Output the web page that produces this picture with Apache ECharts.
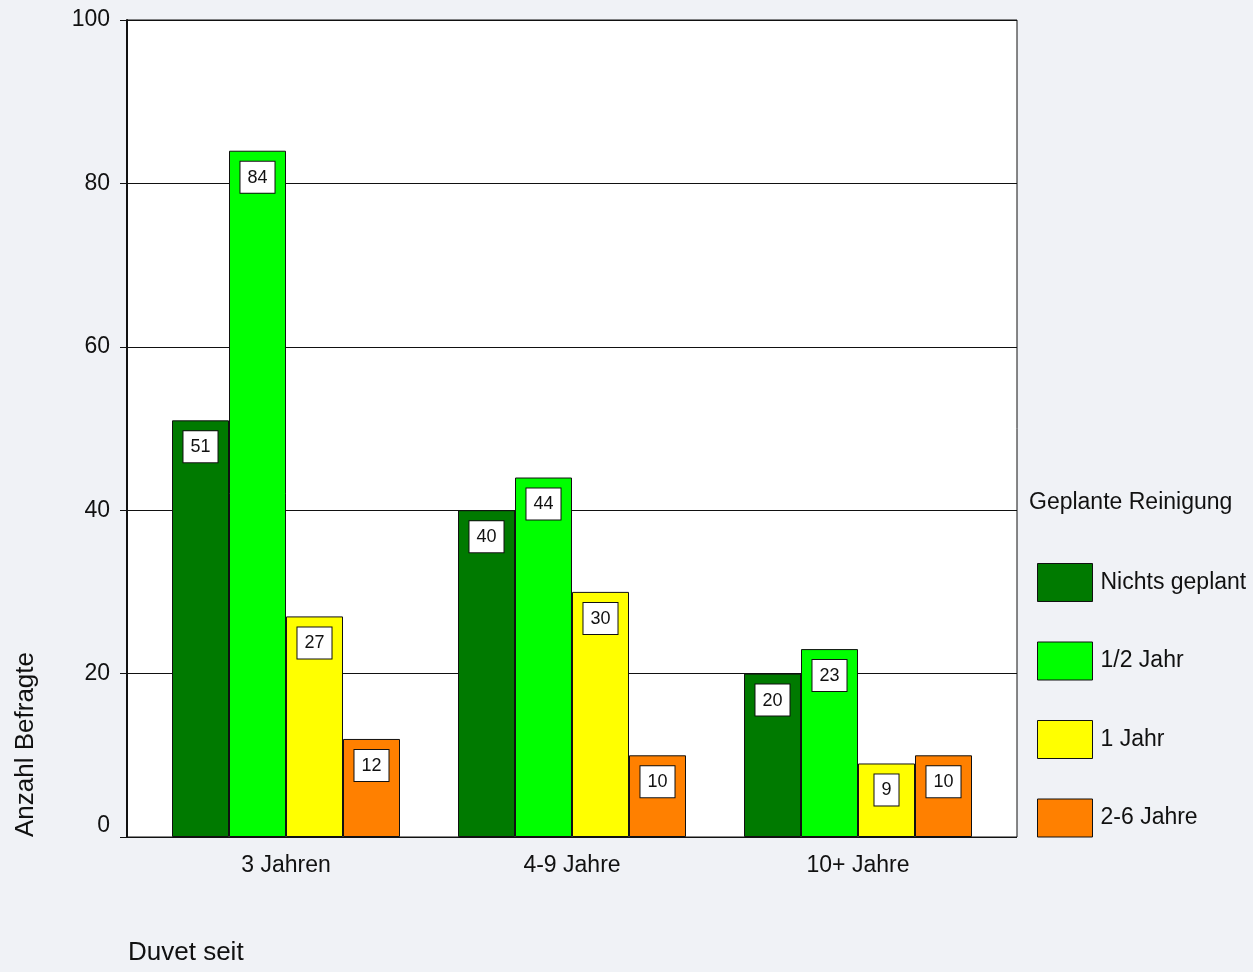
<!DOCTYPE html>
<html>
<head>
<meta charset="utf-8">
<script src="https://cdn.jsdelivr.net/npm/echarts@6/dist/echarts.min.js"></script>
<style>
  html, body { margin: 0; padding: 0; background: #f0f2f6; }
  #chart { width: 1253px; height: 972px; }
</style>
</head>
<body>
<div id="chart"></div>
<script>
// Daten
const categories = ['3 Jahren', '4-9 Jahre', '10+ Jahre'];
const seriesNames = ['Nichts geplant', '1/2 Jahr', '1 Jahr', '2-6 Jahre'];
const nichtsGeplant = [51, 40, 20];
const halbJahr = [84, 44, 23];
const einJahr = [27, 30, 9];
const zweiBisSechs = [12, 10, 10];
const yTicks = [0, 20, 40, 60, 80, 100];

const colors = ['#007a00', '#00ff00', '#ffff00', '#ff8000'];
const font = '"Liberation Sans Narrow", "Arial Narrow", "Liberation Sans", sans-serif';
const values = [nichtsGeplant, halbJahr, einJahr, zweiBisSechs];

const chart = echarts.init(document.getElementById('chart'));

const series = seriesNames.map((name, i) => ({
    name: name,
    type: 'bar',
    xAxisIndex: 1,
    yAxisIndex: 1,
    data: values[i],
    barWidth: 57,
    barGap: '0%',
    itemStyle: {
        color: colors[i],
        borderColor: '#111',
        borderWidth: 1
    },
    label: {
        show: true,
        position: 'insideTop',
        distance: 11,
        fontFamily: font,
        fontSize: 18,
        color: '#111',
        backgroundColor: '#fff',
        borderColor: '#111',
        borderWidth: 1,
        padding: [7, 7, 6, 7]
    }
}));

chart.setOption({
    backgroundColor: '#f0f2f6',
    animation: false,
    textStyle: { fontFamily: font },
    grid: [
        // Rahmen mit Gitterlinien
        {left: 127, right: 236, top: 20, bottom: 135, show: true, backgroundColor: '#fff', borderColor: '#111', borderWidth: 1},
        // Balken
        {left: 143, right: 252, top: 20, bottom: 135}
    ],
    legend: {
        orient: 'vertical',
        left: 1032,
        top: 558,
        itemWidth: 55,
        itemHeight: 38,
        itemGap: 39.5,
        icon: 'rect',
        data: seriesNames,
        itemStyle: { borderColor: '#111', borderWidth: 1 },
        textStyle: { fontFamily: font, fontSize: 23, color: '#111', padding: [6, 0, 0, 3] }
    },
    xAxis: [
        {gridIndex: 0, type: 'value', show: false, min: 0, max: 1},
        {
            gridIndex: 1,
            type: 'category',
            data: categories,
            axisLine: { lineStyle: { color: '#111', width: 1 } },
            axisTick: { alignWithLabel: true, length: 5, lineStyle: { color: '#111' } },
            axisLabel: { fontFamily: font, fontSize: 23, color: '#111', margin: 17 }
        }
    ],
    yAxis: [
        {
            gridIndex: 0,
            type: 'value',
            min: 0,
            max: 100,
            interval: 20,
            axisLine: { show: true, lineStyle: { color: '#111', width: 2 } },
            axisTick: { show: true, length: 7, lineStyle: { color: '#111' } },
            axisLabel: {
                fontFamily: font, fontSize: 23, color: '#111', margin: 17,
                verticalAlignMinLabel: 'bottom',
                formatter: (v) => yTicks.includes(v) ? String(v) : ''
            },
            splitLine: { show: true, lineStyle: { color: '#111', width: 1 } }
        },
        {gridIndex: 1, type: 'value', min: 0, max: 100, show: false}
    ],
    graphic: [
        {
            type: 'text',
            left: 13,
            top: 652,
            rotation: Math.PI / 2,
            style: { text: 'Anzahl Befragte', font: '26px ' + font, fill: '#111' },
            originX: 0, originY: 0
        },
        {
            type: 'text',
            left: 128,
            top: 940,
            style: { text: 'Duvet seit', font: '26px ' + font, fill: '#111' }
        },
        {
            type: 'text',
            left: 1029,
            top: 491,
            style: { text: 'Geplante Reinigung', font: '23px ' + font, fill: '#111' }
        }
    ],
    series: series
});
</script>
</body>
</html>
